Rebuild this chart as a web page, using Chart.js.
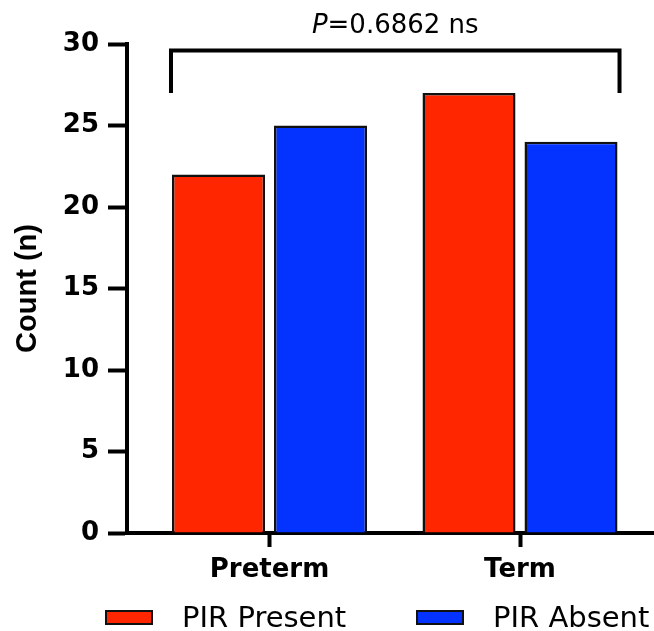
<!DOCTYPE html>
<html>
<head>
<meta charset="utf-8">
<script src="https://cdn.jsdelivr.net/npm/chart.js@4.4.1/dist/chart.umd.min.js"></script>
<style>
  html, body { margin: 0; padding: 0; background: #ffffff; }
  #wrap { width: 654px; height: 631px; position: relative; }
</style>
</head>
<body>
<div id="wrap"><canvas id="chart" width="654" height="631"></canvas></div>
<script>
// ---- data ----
const categories = ['Preterm', 'Term'];
const seriesNames = ['PIR Present', 'PIR Absent'];
const pirPresent = [22, 27];
const pirAbsent = [25, 24];
const yTickValues = [0, 5, 10, 15, 20, 25, 30];
const pLabel = 'P';
const pValueText = '=0.6862 ns';

// ---- styles ----
const RED = '#FF2600';
const BLUE = '#0433FF';
const EDGE = '#111111';
const BOLD_FONT = "'DejaVu Sans', sans-serif";

const bracketPlugin = {
  id: 'bracket',
  afterDraw(chart) {
    const ctx = chart.ctx;
    const y = chart.scales.y;
    const m0 = chart.getDatasetMeta(0);
    const m1 = chart.getDatasetMeta(1);
    const first = m0.data[0];
    const last = m1.data[m1.data.length - 1];
    const xl = first.x - first.width / 2 - 1;
    const xr = last.x + last.width / 2 + 2;
    const yTop = y.getPixelForValue(29.6);
    const yBot = y.getPixelForValue(27.0);
    ctx.save();
    ctx.strokeStyle = '#000';
    ctx.lineWidth = 4;
    ctx.lineJoin = 'miter';
    ctx.beginPath();
    ctx.moveTo(xl, yBot);
    ctx.lineTo(xl, yTop);
    ctx.lineTo(xr, yTop);
    ctx.lineTo(xr, yBot);
    ctx.stroke();
    // p-value text
    const cx = (xl + xr) / 2;
    ctx.fillStyle = '#000';
    ctx.textBaseline = 'alphabetic';
    ctx.font = "italic 26px 'DejaVu Sans', sans-serif";
    const wP = ctx.measureText(pLabel).width;
    ctx.font = "26px 'DejaVu Sans', sans-serif";
    const wR = ctx.measureText(pValueText).width;
    const x0 = cx - (wP + wR) / 2;
    ctx.textAlign = 'left';
    ctx.font = "italic 26px 'DejaVu Sans', sans-serif";
    ctx.fillText(pLabel, x0, 33);
    ctx.font = "26px 'DejaVu Sans', sans-serif";
    ctx.fillText(pValueText, x0 + wP, 33);
    ctx.restore();
  }
};

const legendPlugin = {
  id: 'customLegend',
  afterDraw(chart) {
    const ctx = chart.ctx;
    const startX = 105, step = 311, boxW = 48, boxH = 15, gap = 29;
    const boxTop = 610, baseline = 627;
    ctx.save();
    chart.data.datasets.forEach((ds, i) => {
      const bx = startX + i * step;
      ctx.fillStyle = ds.backgroundColor;
      ctx.fillRect(bx, boxTop, boxW, boxH);
      ctx.strokeStyle = EDGE;
      ctx.lineWidth = 2;
      ctx.strokeRect(bx + 1, boxTop + 1, boxW - 2, boxH - 2);
      ctx.fillStyle = '#000';
      ctx.font = "29px 'DejaVu Sans', sans-serif";
      ctx.textBaseline = 'alphabetic';
      ctx.textAlign = 'left';
      ctx.fillText(ds.label, bx + boxW + gap, baseline);
    });
    ctx.restore();
  }
};

const makeData = (vals) => vals.map((v, i) => ({ x: i, y: v }));

new Chart(document.getElementById('chart'), {
  type: 'bar',
  data: {
    datasets: [
      { label: seriesNames[0], data: makeData(pirPresent), backgroundColor: RED, borderColor: EDGE, borderWidth: 2.5 },
      { label: seriesNames[1], data: makeData(pirAbsent), backgroundColor: BLUE, borderColor: EDGE, borderWidth: 2.5 }
    ]
  },
  options: {
    responsive: false,
    animation: false,
    events: [],
    categoryPercentage: 0.8144,
    barPercentage: 0.912,
    layout: { padding: { top: 44, left: 0, right: 0, bottom: 0 } },
    plugins: {
      legend: { display: false },
      tooltip: { enabled: false },
      title: { display: false }
    },
    scales: {
      x: {
        type: 'linear',
        bounds: 'data',
        offset: false,
        min: -0.5689,
        max: 1.5349,
        afterBuildTicks(scale) {
          scale.ticks = categories.map((c, i) => ({ value: i }));
        },
        afterFit(scale) { scale.height = 98; },
        ticks: {
          callback: (v) => categories[v],
          color: '#000',
          padding: 8,
          maxRotation: 0,
          autoSkip: false,
          font: { family: BOLD_FONT, size: 26, weight: 'bold' }
        },
        grid: {
          display: true,
          offset: false,
          drawOnChartArea: false,
          drawTicks: true,
          tickLength: 14,
          tickWidth: 4,
          tickColor: '#000'
        },
        border: { display: true, color: '#000', width: 4 }
      },
      y: {
        type: 'linear',
        min: 0,
        max: 30,
        afterBuildTicks(scale) {
          scale.ticks = yTickValues.map(v => ({ value: v }));
        },
        afterFit(scale) { scale.width = 127; },
        ticks: {
          color: '#000',
          padding: 9,
          font: { family: BOLD_FONT, size: 26, weight: 'bold' }
        },
        grid: {
          display: true,
          drawOnChartArea: false,
          drawTicks: true,
          tickLength: 19,
          tickWidth: 4,
          tickColor: '#000'
        },
        border: { display: true, color: '#000', width: 4 },
        title: {
          display: true,
          text: 'Count (n)',
          color: '#000',
          padding: { top: 11, bottom: 0 },
          font: { family: "'Liberation Sans', Arial, sans-serif", size: 29, weight: 'bold' }
        }
      }
    }
  },
  plugins: [bracketPlugin, legendPlugin]
});
</script>
</body>
</html>
